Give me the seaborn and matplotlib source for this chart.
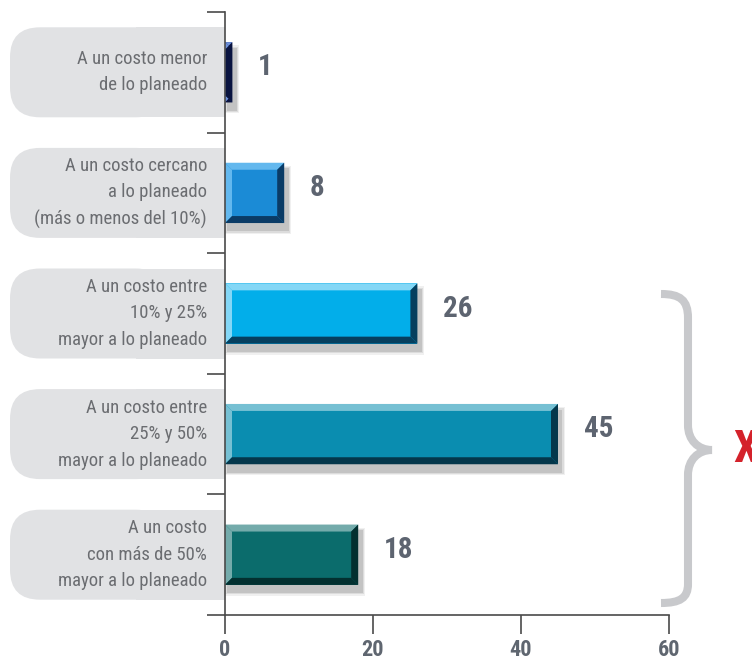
import numpy as np
import pandas as pd
import seaborn as sns
import matplotlib
matplotlib.use("Agg")
import matplotlib.pyplot as plt
from matplotlib.patches import Polygon, FancyBboxPatch, Rectangle, PathPatch
from matplotlib.path import Path
from matplotlib.transforms import Affine2D
from matplotlib import font_manager as fm

# ---------------- data ----------------
categories = [
    "A un costo menor\nde lo planeado",
    "A un costo cercano\na lo planeado\n(más o menos del 10%)",
    "A un costo entre\n10% y 25%\nmayor a lo planeado",
    "A un costo entre\n25% y 50%\nmayor a lo planeado",
    "A un costo\ncon más de 50%\nmayor a lo planeado",
]
values = [1, 8, 26, 45, 18]
x_ticks = [0, 20, 40, 60]
group_label = "X"

main_colors = ["#15276e", "#1b8bd6", "#02aeea", "#0a8db0", "#0b6c6c"]
light_colors = ["#6f92da", "#63b8ee", "#84d7f6", "#76c0d3", "#74abab"]
dark_colors = ["#0a1440", "#0a3b66", "#063f5e", "#04374b", "#033030"]

# ---------------- style ----------------
sns.set_theme(style="white")
names = {f.name for f in fm.fontManager.ttflist}
cands = ["Roboto Condensed", "Liberation Sans Narrow", "Open Sans Condensed",
         "DejaVu Sans Condensed", "Arial Narrow"]
FONT = [c for c in cands if c in names] + ["DejaVu Sans"]
plt.rcParams["font.family"] = FONT
plt.rcParams["font.stretch"] = "condensed"

W, H = 752, 663
fig = plt.figure(figsize=(W / 100, H / 100), dpi=100)
fig.patch.set_facecolor("white")
ax = fig.add_axes([225 / W, (H - 615) / H, 444 / W, 603 / H])
ax.set_facecolor("none")

df = pd.DataFrame({"cat": categories, "val": values})
sns.barplot(data=df, x="val", y="cat", hue="cat", palette=main_colors,
            legend=False, width=0.5, saturation=1, orient="h", ax=ax)
ax.set_xlim(0, 60)
ax.set_ylim(len(categories) - 0.5, -0.5)

px_x = 444 / 60.0      # pixels per x unit
px_y = 603 / 5.0       # pixels per y unit
dx = 7 / px_x
dy = 7 / px_y

bars = sorted(ax.patches, key=lambda p: p.get_y())
for i, p in enumerate(bars):
    p.set_zorder(3)
    p.set_linewidth(0)
    x0, y0, w, h = p.get_x(), p.get_y(), p.get_width(), p.get_height()
    y1 = y0 + h
    x1 = x0 + w
    # shadow
    for k, a in enumerate([0.07, 0.10, 0.14]):
        e = (3 - k) * 1.3
        ax.add_patch(Rectangle((x0 + 3 / px_x - e / px_x, y0 + 7 / px_y - e / px_y),
                               w + 2 * e / px_x, h + 2 * e / px_y,
                               facecolor="#303030", alpha=a, lw=0, zorder=2))
    # bevels
    ax.add_patch(Polygon([(x0, y0), (x1, y0), (x1 - dx, y0 + dy), (x0 + dx, y0 + dy)],
                         closed=True, facecolor=light_colors[i], lw=0, zorder=4))
    ax.add_patch(Polygon([(x0, y0), (x0 + dx, y0 + dy), (x0 + dx, y1 - dy), (x0, y1)],
                         closed=True, facecolor=light_colors[i], lw=0, zorder=4))
    ax.add_patch(Polygon([(x0, y1), (x1, y1), (x1 - dx, y1 - dy), (x0 + dx, y1 - dy)],
                         closed=True, facecolor=dark_colors[i], lw=0, zorder=4))
    ax.add_patch(Polygon([(x1, y0), (x1, y1), (x1 - dx, y1 - dy), (x1 - dx, y0 + dy)],
                         closed=True, facecolor=dark_colors[i], lw=0, zorder=4))

# value labels
for i, v in enumerate(values):
    ax.text(v + 3.5, i - 0.04, str(v), ha="left", va="center", fontsize=21,
            fontweight="bold", color="#5d6470", clip_on=False, zorder=5)

# category label boxes
box_left = (10 - 225) / px_x
box_h = 90 / px_y
r = 30 / px_x
aspect = (30 / px_y) / r
for i, cat in enumerate(categories):
    ax.add_patch(FancyBboxPatch((box_left, i - box_h / 2), -box_left - 8, box_h,
                                boxstyle=f"round,pad=0,rounding_size={r}",
                                mutation_aspect=aspect, facecolor="#e1e2e4",
                                lw=0, clip_on=False, zorder=1))
    ax.add_patch(Rectangle((-12, i - box_h / 2), 12, box_h, facecolor="#e1e2e4",
                           lw=0, clip_on=False, zorder=1))
    ax.text(-18 / px_x, i, cat, ha="right", va="center", fontsize=13.5,
            color="#6b6d71", linespacing=1.6, clip_on=False, zorder=5)

# axes styling
for s in ["top", "right"]:
    ax.spines[s].set_visible(False)
for s in ["left", "bottom"]:
    ax.spines[s].set_color("#4a4a4a")
    ax.spines[s].set_linewidth(1.2)
    ax.spines[s].set_zorder(6)
ax.set_xticks(x_ticks)
ax.set_xticklabels([str(t) for t in x_ticks])
ax.set_yticks(np.arange(-0.5, len(categories), 1.0))
ax.set_yticklabels([])
ax.tick_params(axis="x", direction="out", length=14, width=1.2, color="#4a4a4a",
               pad=3, labelsize=16, labelcolor="#5f6670", bottom=True)
ax.tick_params(axis="y", direction="out", length=13, width=1.2, color="#4a4a4a", left=True)
for t in ax.get_xticklabels():
    t.set_fontweight("bold")
ax.set_xlabel("")
ax.set_ylabel("")

# brace
verts = [(661, 294), (680, 294), (688, 300), (688, 318),
         (688, 425),
         (688, 440), (698, 450), (712, 450),
         (698, 450), (688, 460), (688, 475),
         (688, 584),
         (688, 598), (680, 603), (661, 603)]
codes = [Path.MOVETO, Path.CURVE4, Path.CURVE4, Path.CURVE4,
         Path.LINETO,
         Path.CURVE4, Path.CURVE4, Path.CURVE4,
         Path.CURVE4, Path.CURVE4, Path.CURVE4,
         Path.LINETO,
         Path.CURVE4, Path.CURVE4, Path.CURVE4]
brace = PathPatch(Path(verts, codes), transform=Affine2D().scale(1, -1).translate(0, H),
                  fill=False, edgecolor="#c8c9cc", lw=5.8, capstyle="butt")
fig.add_artist(brace)

fig.text(733 / W, 1 - 450 / H, group_label, color="#d4222b", fontsize=32,
         fontweight="bold", ha="left", va="center")

fig.savefig("out.png", dpi=100)
